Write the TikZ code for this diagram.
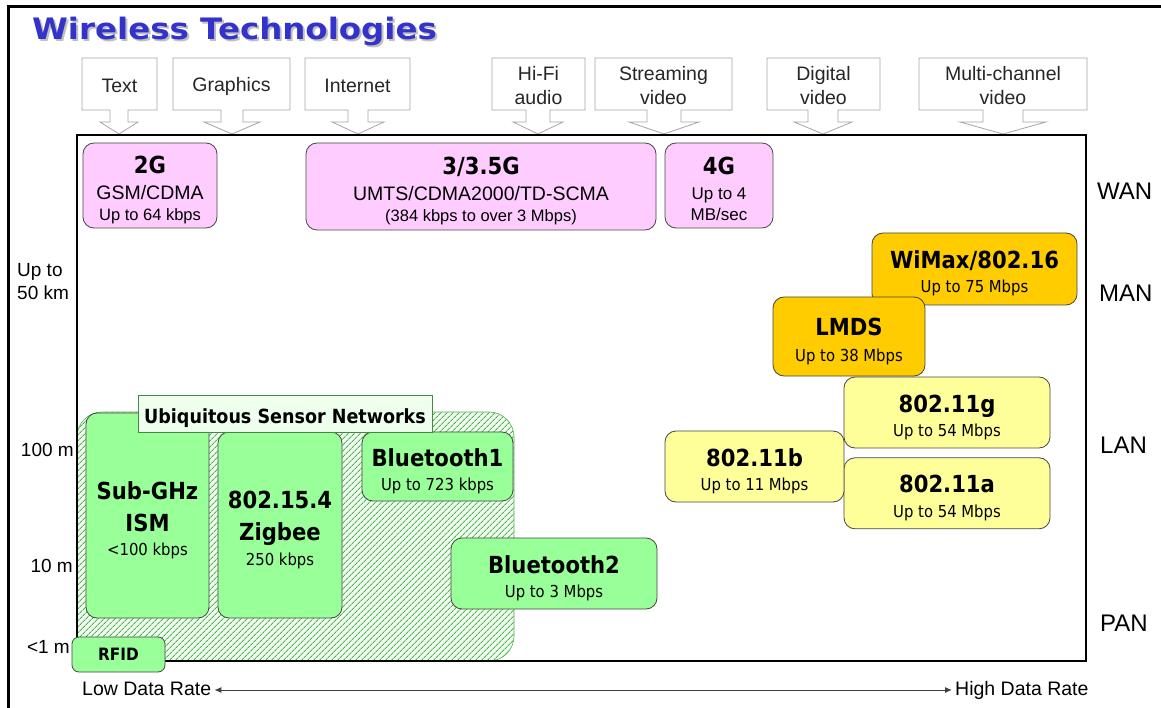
\documentclass[tikz,border=0pt]{standalone}
\usepackage{fontspec}
\setmainfont{Liberation Sans}
\newfontfamily\techfont{DejaVu Sans}[FakeStretch=0.9]
\newfontfamily\titlefont{DejaVu Sans}[FakeStretch=1.1]
\usetikzlibrary{positioning, arrows.meta, patterns.meta}

\definecolor{titleblue}{RGB}{51,51,204}
\definecolor{wanpink}{RGB}{255,204,255}
\definecolor{manorange}{RGB}{255,204,0}
\definecolor{lanyellow}{RGB}{255,255,153}
\definecolor{pangreen}{RGB}{153,255,153}
\definecolor{usnhatch}{RGB}{85,170,85}
\definecolor{usnback}{RGB}{238,255,238}
\definecolor{edgegrey}{RGB}{70,70,70}

\newcommand{\techname}[1]{{\techfont\bfseries\fontsize{23.5}{24.5}\selectfont\rule{0pt}{23.5pt}#1}}
\newcommand{\mediabox}[7]{%
  \draw[mediaedge] (#2,58) -- (#3,58) -- (#3,110) -- (#4+#5,110) -- (#4+#5,122) -- (#4+#6,122) -- (#4,134)
    -- (#4-#6,122) -- (#4-#5,122) -- (#4-#5,110) -- (#2,110) -- cycle;
  \node[mediatext] (#1) at ({(#2+#3)/2},86) {#7};}

\tikzset{
  boxsize/.style 2 args={minimum width=#1, minimum height=#2},
  tech/.style={draw=edgegrey, line width=0.8pt, rounded corners=11pt, inner sep=0pt, align=center, text depth=0pt},
  wan/.style={tech, fill=wanpink, font=\fontsize{16.5}{21}\selectfont},
  man/.style={tech, fill=manorange, font=\techfont\fontsize{16.5}{24.5}\selectfont},
  lan/.style={tech, fill=lanyellow, font=\techfont\fontsize{16.5}{24.5}\selectfont},
  pan/.style={tech, fill=pangreen, font=\techfont\fontsize{16.5}{24.5}\selectfont},
  usnarea/.style={draw=usnhatch, line width=0.6pt, rounded corners=25pt, fill=usnback,
    postaction={pattern={Lines[angle=45, distance=4pt, line width=1pt]}, pattern color=usnhatch}},
  usnlabel/.style={draw=usnhatch!80!black, line width=0.8pt, fill=usnback, inner sep=0pt, text depth=0pt,
    font=\techfont\bfseries\fontsize{19.5}{22}\selectfont},
  mediaedge/.style={draw=black!35, line width=0.8pt, fill=white},
  mediatext/.style={align=center, inner sep=0pt, text=black!85, font=\fontsize{19.5}{24}\selectfont},
  chartframe/.style={line width=1.8pt},
  rangelabel/.style={inner sep=0pt, font=\fontsize{19}{23}\selectfont},
  netlabel/.style={anchor=west, inner sep=0pt, font=\fontsize{24}{26}\selectfont},
  ratelabel/.style={anchor=west, inner sep=3pt, text height=14pt, text depth=4pt, font=\fontsize{19.5}{22}\selectfont},
  ratearrow/.style={{Latex[length=7pt,width=6pt]}-{Latex[length=7pt,width=6pt]}, line width=1pt, black!75},
  titletext/.style={anchor=base west, inner sep=0pt, font=\titlefont\bfseries\fontsize{29.5}{32}\selectfont}
}

\begin{document}
\begin{tikzpicture}[x=1pt, y=-1pt]
    \useasboundingbox (0,0) rectangle (1161,708);
    \draw[line width=3pt] (8.5,708) -- (8.5,7) -- (1161,7);

    % title
    \node[titletext, text=black!25] (titleshadow) at (34,42) {Wireless Technologies};
    \node[titletext, text=titleblue] (title) at (32,40) {Wireless Technologies};

    % media above the chart
    \mediabox{text}{82}{157}{119}{9}{19}{Text}
    \mediabox{graphics}{173}{290}{232}{11}{28}{Graphics}
    \mediabox{internet}{305}{410}{358}{10}{26}{Internet}
    \mediabox{hifi}{492}{585}{538}{12}{25}{Hi-Fi\\audio}
    \mediabox{streaming}{595}{732}{664}{17}{35}{Streaming\\video}
    \mediabox{digital}{767}{880}{823}{15}{29}{Digital\\video}
    \mediabox{multichannel}{919}{1087}{1003}{20}{43}{Multi-channel\\video}

    % sensor networks area
    \draw[usnarea] (77,412) rectangle (514,661);
    \draw[chartframe] (77,135) rectangle (1086,661);

    % WAN
    \node[wan, boxsize={134}{85}] (twoG) at (150,185.5) {\techname{2G}\\[5.5pt]{\fontsize{19.5}{21}\selectfont GSM/CDMA}\\Up to 64 kbps};
    \node[wan, boxsize={350}{87}] (threeG) at (481,186.5) {\techname{3/3.5G}\\[5.5pt]{\fontsize{19.5}{21}\selectfont UMTS/CDMA2000/TD-SCMA}\\(384 kbps to over 3 Mbps)};
    \node[wan, boxsize={108}{85}] (fourG) at (719,185.5) {\techname{4G}\\[4pt]{\fontsize{17}{21}\selectfont Up to 4}\\{\fontsize{17}{21}\selectfont MB/sec}};

    % MAN
    \node[man, boxsize={205}{72}] (wimax) at (974.5,269) {\techname{WiMax/802.16}\\Up to 75 Mbps};
    \node[man, boxsize={152}{79}] (lmds) at (849,336.5) {\techname{LMDS}\\[1pt]Up to 38 Mbps};

    % LAN
    \node[lan, boxsize={206}{71}] (wlang) at (947,412.5) {\techname{802.11g}\\Up to 54 Mbps};
    \node[lan, boxsize={206}{71}, below=9pt of wlang] (wlana) {\techname{802.11a}\\Up to 54 Mbps};
    \node[lan, boxsize={179}{71}] (wlanb) at (754.5,466.5) {\techname{802.11b}\\Up to 11 Mbps};

    % PAN
    \node[pan, boxsize={123}{205}] (subghz) at (147.5,515.5) {\techname{Sub-GHz}\\[7.5pt]\techname{ISM}\\<100 kbps};
    \node[pan, boxsize={124}{186}] (zigbee) at (280,525) {\techname{802.15.4}\\[7.5pt]\techname{Zigbee}\\250 kbps};
    \node[pan, boxsize={151}{69}] (btone) at (437.5,466.5) {\techname{Bluetooth1}\\Up to 723 kbps};
    \node[pan, boxsize={206}{71}] (bttwo) at (554,573.5) {\techname{Bluetooth2}\\Up to 3 Mbps};
    \node[usnlabel, boxsize={294}{37}] (usn) at (285,413.5) {\rule{0pt}{19pt}Ubiquitous Sensor Networks};
    \node[pan, boxsize={93}{35}, rounded corners=7pt] (rfid) at (118.5,654.5) {{\bfseries\fontsize{17}{20}\selectfont RFID}};

    % ranges and network classes
    \node[rangelabel, anchor=west, align=left] (km50) at (17,281.5) {Up to\\50 km};
    \node[rangelabel, anchor=east] (m100) at (74,450) {100 m};
    \node[rangelabel, anchor=east] (m10) at (73,566) {10 m};
    \node[rangelabel, anchor=east] (m1) at (70,647) {<1 m};
    \node[netlabel] (wanlbl) at (1097,191) {WAN};
    \node[netlabel] (manlbl) at (1099,293) {MAN};
    \node[netlabel] (lanlbl) at (1100,445) {LAN};
    \node[netlabel] (panlbl) at (1100,623) {PAN};

    % data rate axis
    \node[ratelabel] (lowrate) at (79,690) {Low Data Rate};
    \node[ratelabel] (highrate) at (952,690) {High Data Rate};
    \draw[ratearrow] (lowrate) -- (highrate);
\end{tikzpicture}
\end{document}
